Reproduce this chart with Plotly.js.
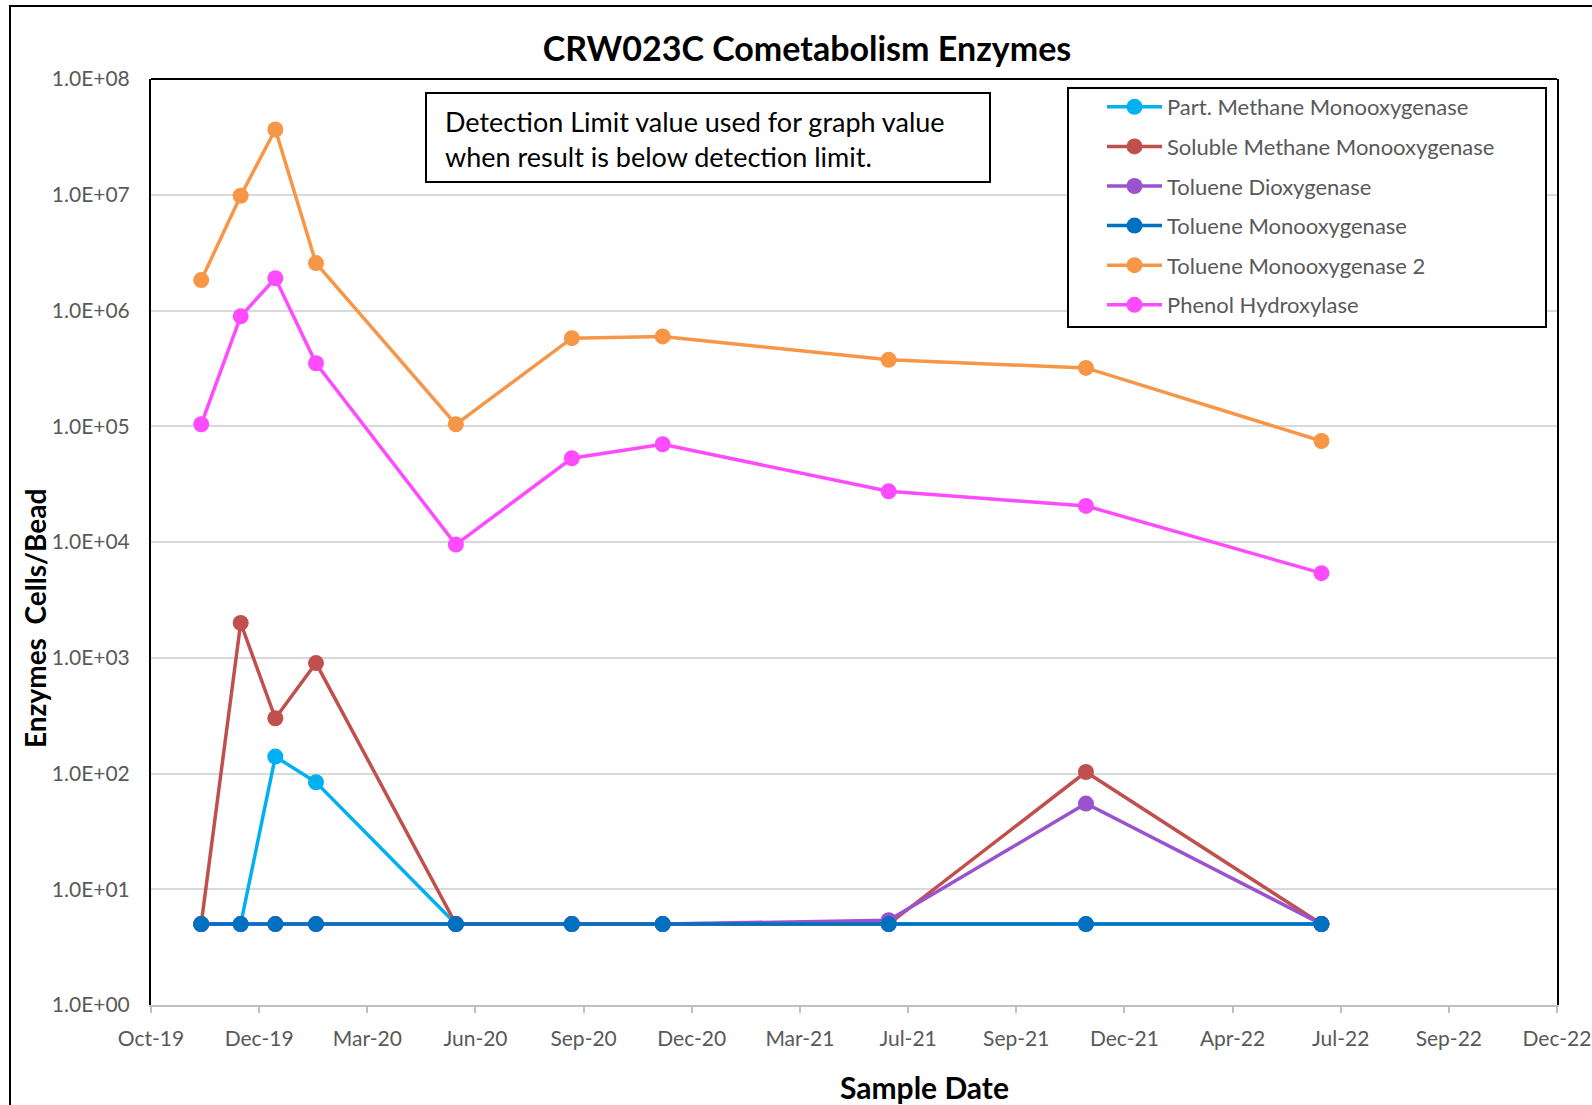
<!DOCTYPE html>
<html>
<head>
<meta charset="utf-8">
<script src="https://cdn.plot.ly/plotly-3.0.1.min.js"></script>
<style>
html, body { margin: 0; padding: 0; background: #ffffff; }
#chart { width: 1592px; height: 1105px; }
</style>
</head>
<body>
<div id="chart"></div>
<script>
// ---------------- data ----------------
const sampleDates = ['2019-11-12', '2019-12-15', '2020-01-13', '2020-02-16', '2020-06-12',
                     '2020-09-17', '2020-12-02', '2021-06-09', '2021-11-21', '2022-06-06'];
const partMethaneMonooxygenase    = [5, 5, 140, 84, 5, 5, 5, 5, 5, 5];
const solubleMethaneMonooxygenase = [5, 2000, 300, 900, 5, 5, 5, 5, 103, 5];
const tolueneDioxygenase          = [5, 5, 5, 5, 5, 5, 5, 5.4, 55, 5];
const tolueneMonooxygenase        = [5, 5, 5, 5, 5, 5, 5, 5, 5, 5];
const tolueneMonooxygenase2       = [1.83e6, 9.8e6, 3.66e7, 2.57e6, 1.04e5, 5.77e5, 5.97e5, 3.75e5, 3.19e5, 7.46e4];
const phenolHydroxylase           = [1.04e5, 8.9e5, 1.9e6, 3.5e5, 9.5e3, 5.29e4, 6.99e4, 2.74e4, 2.05e4, 5.38e3];

const seriesNames = ['Part. Methane Monooxygenase', 'Soluble Methane Monooxygenase', 'Toluene Dioxygenase',
                     'Toluene Monooxygenase', 'Toluene Monooxygenase 2', 'Phenol Hydroxylase'];
const seriesValues = [partMethaneMonooxygenase, solubleMethaneMonooxygenase, tolueneDioxygenase,
                      tolueneMonooxygenase, tolueneMonooxygenase2, phenolHydroxylase];
const seriesColors = ['#00B0F0', '#C0504D', '#9B52CF', '#0070C0', '#F79646', '#FF4BFF'];

const xTickLabels = ['Oct-19', 'Dec-19', 'Mar-20', 'Jun-20', 'Sep-20', 'Dec-20', 'Mar-21',
                     'Jul-21', 'Sep-21', 'Dec-21', 'Apr-22', 'Jul-22', 'Sep-22', 'Dec-22'];
const yTickValues = [1, 10, 100, 1000, 1e4, 1e5, 1e6, 1e7, 1e8];
const yTickLabels = ['1.0E+00', '1.0E+01', '1.0E+02', '1.0E+03', '1.0E+04', '1.0E+05', '1.0E+06', '1.0E+07', '1.0E+08'];

const titleText = 'CRW023C Cometabolism Enzymes';
const xTitleText = 'Sample Date';
const yTitleText = 'Enzymes  Cells/Bead';
const noteText = ['Detection Limit value used for graph value', 'when result is below detection limit.'];

// ---------------- layout helpers ----------------
const W = 1592, H = 1105;
const M = { l: 151, r: 35, t: 79, b: 100 };
const PW = W - M.l - M.r, PH = H - M.t - M.b;
const px2x = px => (px - M.l) / PW;
const py2y = py => (H - M.b - py) / PH;

const xStart = Date.UTC(2019, 9, 1), xEnd = Date.UTC(2022, 11, 20);
const iso = ms => new Date(ms).toISOString().replace('T', ' ').slice(0, 19);
const xTickVals = xTickLabels.map((_, i) => iso(xStart + (xEnd - xStart) * i / (xTickLabels.length - 1)));

const FONT = 'Lato, "Open Sans", sans-serif';
const GRAY = '#595959';

const traces = seriesNames.map((name, i) => ({
  type: 'scatter',
  mode: 'lines+markers',
  name: name,
  legendgroup: 'g' + i,
  x: sampleDates,
  y: seriesValues[i],
  line: { color: seriesColors[i], width: 3.5 },
  marker: { color: seriesColors[i], size: 16, symbol: 'circle' },
  hoverinfo: 'x+y+name'
}));

const layout = {
  width: W, height: H,
  margin: M,
  paper_bgcolor: '#ffffff',
  plot_bgcolor: '#ffffff',
  font: { family: FONT, color: GRAY, size: 20 },
  title: {
    text: '<b>' + titleText + '</b>',
    font: { family: FONT, size: 34, color: '#000000' },
    xref: 'container', x: 807 / W, xanchor: 'center',
    yref: 'container', y: 1 - 49 / H, yanchor: 'middle'
  },
  xaxis: {
    type: 'date',
    range: [iso(xStart), iso(xEnd)],
    tickmode: 'array',
    tickvals: xTickVals,
    ticktext: xTickLabels,
    showgrid: false,
    zeroline: false,
    showline: true,
    linecolor: '#bfbfbf',
    linewidth: 2,
    ticks: 'outside',
    ticklen: 6,
    tickwidth: 2,
    tickcolor: '#bfbfbf',
    ticklabelstandoff: 8,
    tickfont: { family: FONT, size: 21, color: GRAY }
  },
  yaxis: {
    type: 'log',
    range: [0, 8],
    tickmode: 'array',
    tickvals: yTickValues,
    ticktext: yTickLabels,
    showgrid: true,
    gridcolor: '#d9d9d9',
    gridwidth: 2,
    zeroline: false,
    showline: true,
    mirror: true,
    linecolor: '#000000',
    linewidth: 2,
    ticks: '',
    ticklabelstandoff: 15,
    tickfont: { family: FONT, size: 21, color: GRAY }
  },
  showlegend: true,
  legend: {
    x: px2x(1102), y: py2y(86),
    xanchor: 'left', yanchor: 'top',
    bgcolor: 'rgba(0,0,0,0)',
    borderwidth: 0,
    font: { family: FONT, size: 22, color: GRAY },
    traceorder: 'grouped',
    tracegroupgap: 8,
    itemwidth: 55,
    itemclick: false,
    itemdoubleclick: false
  },
  shapes: [
    // top border of the plot area
    { type: 'line', xref: 'paper', yref: 'paper', x0: 0, x1: 1, y0: 1, y1: 1,
      line: { color: '#000000', width: 2 } },
    // outer chart frame
    { type: 'rect', xref: 'paper', yref: 'paper',
      x0: px2x(10), x1: px2x(1620), y0: py2y(1130), y1: py2y(6),
      line: { color: '#000000', width: 2 }, fillcolor: 'rgba(0,0,0,0)' },
    // note box
    { type: 'rect', xref: 'paper', yref: 'paper',
      x0: px2x(426), x1: px2x(990), y0: py2y(182), y1: py2y(93),
      line: { color: '#000000', width: 2 }, fillcolor: '#ffffff', layer: 'below' },
    // legend frame
    { type: 'rect', xref: 'paper', yref: 'paper',
      x0: px2x(1068), x1: px2x(1546), y0: py2y(327), y1: py2y(88),
      line: { color: '#000000', width: 2 }, fillcolor: '#ffffff', layer: 'above' }
  ],
  annotations: [
    { xref: 'paper', yref: 'paper', x: px2x(35), y: py2y(619), xanchor: 'center', yanchor: 'middle',
      textangle: -90, showarrow: false, text: '<b>' + yTitleText.replace(/  /g, '&nbsp; ') + '</b>',
      font: { family: FONT, size: 28, color: '#000000' } },
    { xref: 'paper', yref: 'paper', x: px2x(924), y: py2y(1087), xanchor: 'center', yanchor: 'middle',
      showarrow: false, text: '<b>' + xTitleText + '</b>',
      font: { family: FONT, size: 30, color: '#000000' } },
    { xref: 'paper', yref: 'paper', x: px2x(443), y: py2y(121), xanchor: 'left', yanchor: 'middle',
      showarrow: false, text: noteText[0], align: 'left',
      font: { family: FONT, size: 27, color: '#000000' } },
    { xref: 'paper', yref: 'paper', x: px2x(443), y: py2y(156), xanchor: 'left', yanchor: 'middle',
      showarrow: false, text: noteText[1], align: 'left',
      font: { family: FONT, size: 27, color: '#000000' } }
  ]
};

Plotly.newPlot('chart', traces, layout, { displayModeBar: false });
</script>
</body>
</html>
